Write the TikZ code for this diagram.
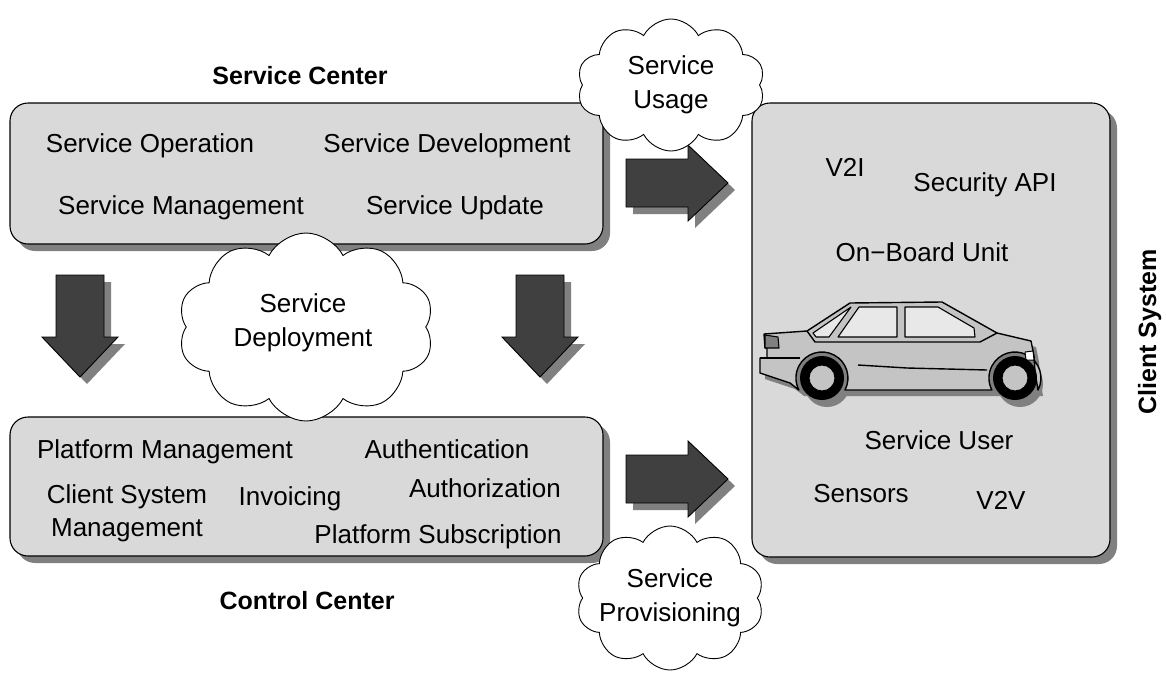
\documentclass[tikz,border=0pt]{standalone}
\usepackage{fontspec}
\setmainfont{Liberation Sans}
\usetikzlibrary{shapes.symbols}
\definecolor{panelgray}{HTML}{D9D9D9}
\definecolor{shadowgray}{HTML}{808080}
\definecolor{arrowgray}{HTML}{404040}
\definecolor{carbody}{HTML}{C4C4C4}
\definecolor{glass}{HTML}{E8E8E8}
\begin{document}
\begin{tikzpicture}[x=1pt,y=-1pt,
  shadowed/.style={preaction={fill=shadowgray, transform canvas={shift={(7pt,-7pt)}}}},
  panel/.style={shadowed, draw=black, line width=1.1pt, fill=panelgray, rounded corners=18pt, inner sep=0pt},
  blockarrow/.style={shadowed, draw=black, line width=0.9pt, fill=arrowgray, line join=miter},
  itemtext/.style={font=\fontsize{26}{33}\selectfont, inner sep=0pt, anchor=base, align=center},
  titletext/.style={font=\fontsize{25}{30}\selectfont\bfseries, inner sep=0pt},
  bubble/.style={cloud, cloud puffs=10, cloud puff arc=125, draw=black, line width=0.9pt, fill=white, inner sep=0pt},
  bubbletext/.style={font=\fontsize{26}{34}\selectfont, inner sep=0pt, align=center},
  carline/.style={draw=black, line width=1.4pt, line join=round},
]
\useasboundingbox (0,0) rectangle (1166,672);

% titles
\node[titletext] (sctitle) at (300,76) {Service Center};
\node[titletext] (cctitle) at (307,601) {Control Center};
\node[titletext, rotate=90, text depth=0pt] (cstitle) at (1147,332) {Client System};

% panels
\node[panel, minimum width=593pt, minimum height=141pt] (svc) at (306.5,173.5) {};
\node[panel, minimum width=593pt, minimum height=139pt] (ctl) at (306.5,486.5) {};
\node[panel, minimum width=358pt, minimum height=454pt] (cli) at (931,330) {};

% service center items
\node[itemtext] (sop) at (150,152) {Service Operation};
\node[itemtext] (sdev) at (447,152) {Service Development};
\node[itemtext] (smgmt) at (181,214) {Service Management};
\node[itemtext] (supd) at (455,214) {Service Update};

% control center items (a two-line node sits on the base of its last line)
\node[itemtext] (pmgmt) at (165,458) {Platform Management};
\node[itemtext] (authn) at (447,458) {Authentication};
\node[itemtext] (csm) at (127,536) {Client System\\Management};
\node[itemtext] (inv) at (290,505) {Invoicing};
\node[itemtext] (authz) at (485,497) {Authorization};
\node[itemtext] (psub) at (438,543) {Platform Subscription};

% client system items
\node[itemtext] (v2i) at (845,176) {V2I};
\node[itemtext] (secapi) at (985,191) {Security API};
\node[itemtext] (obu) at (922,261) {On−Board Unit};
\node[itemtext] (suser) at (939,449) {Service User};
\node[itemtext] (sens) at (861,502) {Sensors};
\node[itemtext] (v2v) at (1001,509) {V2V};

% block arrows
\path[blockarrow] (626,159) -- (688,159) -- (688,145) -- (728,183) -- (688,221) -- (688,207) -- (626,207) -- cycle;
\path[blockarrow] (626,455) -- (688,455) -- (688,441) -- (728,479) -- (688,517) -- (688,503) -- (626,503) -- cycle;
\path[blockarrow] (56,275) -- (104,275) -- (104,337) -- (118,337) -- (80,377) -- (42,337) -- (56,337) -- cycle;
\path[blockarrow] (516,275) -- (564,275) -- (564,337) -- (578,337) -- (540,377) -- (502,337) -- (516,337) -- cycle;

% car
\begin{scope}
  % shadow
  \begin{scope}[shift={(5,6)}]
    \fill[shadowgray] (764,334) -- (807,331) -- (850,303) -- (942,302) -- (997,333) -- (1031,341)
      -- (1034,356) -- (1035,372) -- (1038,390) -- (992,390) -- (845,390) -- (799,390)
      -- (790,383) -- (760,373) -- (760,358) -- (767,358) -- (767,348) -- (765,348) -- cycle;
    \fill[shadowgray] (822,378) circle[radius=23];
    \fill[shadowgray] (1015,378) circle[radius=23];
  \end{scope}
  % body
  \path[carline, fill=carbody] (764,334) -- (807,331) -- (850,303) -- (942,302) -- (997,333) -- (1031,341)
    -- (1034,356) -- (1035,372) -- (1038,390)
    arc[start angle=27.5, end angle=-207.5, radius=26]
    -- (845,390)
    arc[start angle=27.5, end angle=-207.5, radius=26]
    -- (790,383) -- (760,373) -- (760,358) -- (767,358) -- (767,348) -- (765,348) -- cycle;
  % windows
  \path[carline, fill=glass, line width=1.1pt] (813,333) -- (851,307) -- (829,337) -- (816,337) -- cycle;
  \path[carline, fill=glass, line width=1.1pt] (838,337) -- (859,307) -- (897,307) -- (897,337) -- cycle;
  \path[carline, fill=glass, line width=1.1pt] (905,307) -- (938,307) -- (974,328) -- (975,337) -- (905,337) -- cycle;
  % belt line, bumper and side crease
  \draw[carline] (807,331) -- (815,342) -- (980,342) -- (997,333);
  \draw[carline] (760,358) -- (800,358);
  \draw[carline] (858,365) -- (907,368) -- (987,370);
  % lights
  \path[carline, fill=shadowgray, line width=1.1pt] (765,335) -- (778,337) -- (779,348) -- (765,348) -- cycle;
  \path[carline, fill=white, line width=1pt] (1025,352) -- (1033,351) -- (1034,360) -- (1026,360) -- cycle;
  % wheels
  \fill[black] (822,378) circle[radius=22];
  \path[draw=black, fill=carbody, line width=1pt] (822,378) circle[radius=13];
  \fill[black] (1015,378) circle[radius=22];
  \path[draw=black, fill=carbody, line width=1pt] (1015,378) circle[radius=13];
\end{scope}

% clouds
\node[bubble, minimum width=188pt, minimum height=132pt] (usage) at (671,85) {};
\node[bubbletext] at (usage.center) {Service\\Usage};
\node[bubble, minimum width=256pt, minimum height=188pt] (deploy) at (306,327) {};
\node[bubbletext] at (303,323) {Service\\Deployment};
\node[bubble, minimum width=188pt, minimum height=144pt] (prov) at (670,598) {};
\node[bubbletext] at (prov.center) {Service\\Provisioning};
\end{tikzpicture}
\end{document}
